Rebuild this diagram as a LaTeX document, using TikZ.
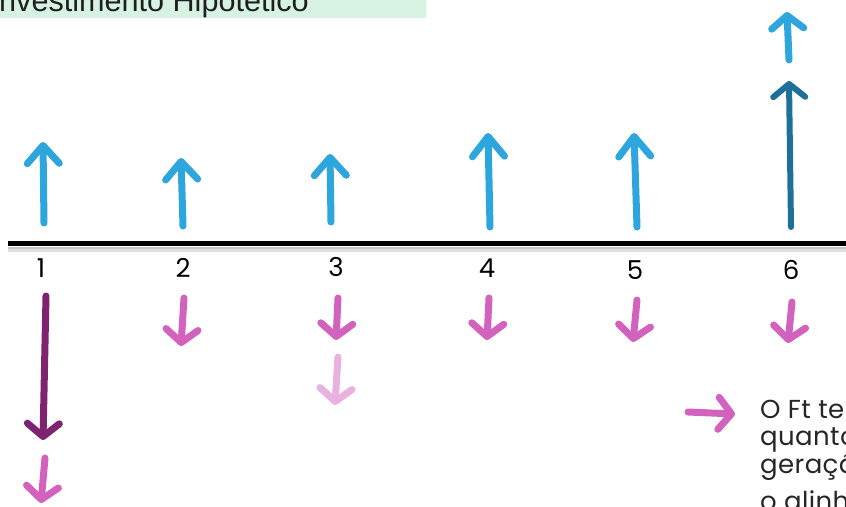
\documentclass[tikz,border=0pt]{standalone}
\usepackage{fontspec}
\setmainfont{Poppins}
\newfontfamily\notefont{Poppins}[LetterSpace=1.5]
\newfontfamily\titlefont{Liberation Sans}
\usetikzlibrary{arrows.meta}
\definecolor{cblue}{HTML}{2CA6DD}
\definecolor{cdblue}{HTML}{1D7099}
\definecolor{cpink}{HTML}{D262BE}
\definecolor{cpurple}{HTML}{7F2371}
\definecolor{clpink}{HTML}{E8B1DF}
\definecolor{cgreen}{HTML}{D5F2E3}
\tikzset{
  brush/.style={line width=7pt, line cap=round,
    -{Straight Barb[round, length=#1, width=32pt]}},
  brush/.default=12pt,
  num/.style={anchor=base, inner sep=0pt, font=\fontsize{26}{30}\selectfont, text=black},
  note/.style={anchor=base west, inner sep=0pt, font=\notefont\fontsize{26}{30}\selectfont, text=black!85},
}
\begin{document}
\begin{tikzpicture}[x=1pt,y=-1pt]
\useasboundingbox (0,0) rectangle (846,506);
\clip (0,0) rectangle (846,506);
% title
\fill[cgreen] (0,-20) rectangle (426,18);
\node[anchor=base west, inner sep=0pt, font=\titlefont\fontsize{30.6}{34}\selectfont, text=black!88] (title) at (-9.5,11) {Investimento Hipotético};
% axis with shadow
\draw[line width=4pt, black!12] (8,250) -- (846,250);
\draw[line width=2.5pt, black!22] (8,248) -- (846,248);
\draw[line width=5pt, black] (8,243) -- (846,243);
% labels
\node[num] (n1) at (41,277) {1};
\node[num] (n2) at (183,277) {2};
\node[num] (n3) at (336,276) {3};
\node[num] (n4) at (487,277) {4};
\node[num] (n5) at (635,279) {5};
\node[num] (n6) at (791,279) {6};
% up arrows (inflows)
\coordinate (u1a) at (44,223); \coordinate (u1b) at (43,142);
\coordinate (u2a) at (183,226); \coordinate (u2b) at (181,158);
\coordinate (u3a) at (331,222); \coordinate (u3b) at (330,154);
\coordinate (u4a) at (490,227); \coordinate (u4b) at (488,133);
\coordinate (u5a) at (637,227); \coordinate (u5b) at (634,133);
\coordinate (u6a) at (791,227); \coordinate (u6b) at (789,81);
\coordinate (u7a) at (789,60); \coordinate (u7b) at (787,12);
\draw[brush=18pt, cblue] (u1a) -- (u1b);
\draw[brush=18pt, cblue] (u2a) -- (u2b);
\draw[brush=18pt, cblue] (u3a) -- (u3b);
\draw[brush=20pt, cblue] (u4a) -- (u4b);
\draw[brush=20pt, cblue] (u5a) -- (u5b);
\draw[brush=13pt, cdblue, line width=6pt] (u6a) -- (u6b);
\draw[brush=13pt, cblue] (u7a) -- (u7b);
% down arrows (outflows)
\coordinate (d1a) at (46,296); \coordinate (d1b) at (43,440);
\coordinate (d8a) at (45,458); \coordinate (d8b) at (41,503);
\coordinate (d2a) at (184,298); \coordinate (d2b) at (181,346);
\coordinate (d3a) at (338,298); \coordinate (d3b) at (336,340);
\coordinate (d7a) at (338,357); \coordinate (d7b) at (335,405);
\coordinate (d4a) at (489,298); \coordinate (d4b) at (487,340);
\coordinate (d5a) at (637,300); \coordinate (d5b) at (633,342);
\coordinate (d6a) at (792,302); \coordinate (d6b) at (788,343);
\draw[brush=13pt, cpurple] (d1a) -- (d1b);
\draw[brush=13pt, cpink] (d8a) -- (d8b);
\draw[brush=13pt, cpink] (d2a) -- (d2b);
\draw[brush=13pt, cpink] (d3a) -- (d3b);
\draw[brush=13pt, clpink] (d7a) -- (d7b);
\draw[brush=13pt, cpink] (d4a) -- (d4b);
\draw[brush=13pt, cpink] (d5a) -- (d5b);
\draw[brush=13pt, cpink] (d6a) -- (d6b);
% note arrow and text
\coordinate (ra) at (688,412); \coordinate (rb) at (735,414);
\draw[brush=13pt, cpink] (ra) -- (rb);
\node[note] (t1) at (760,418) {O Ft te};
\node[note] (t2) at (760,445) {quanto};
\node[note] (t3) at (760,473) {geraçã};
\node[note] (t4) at (760,510) {o alinha};
\end{tikzpicture}
\end{document}
